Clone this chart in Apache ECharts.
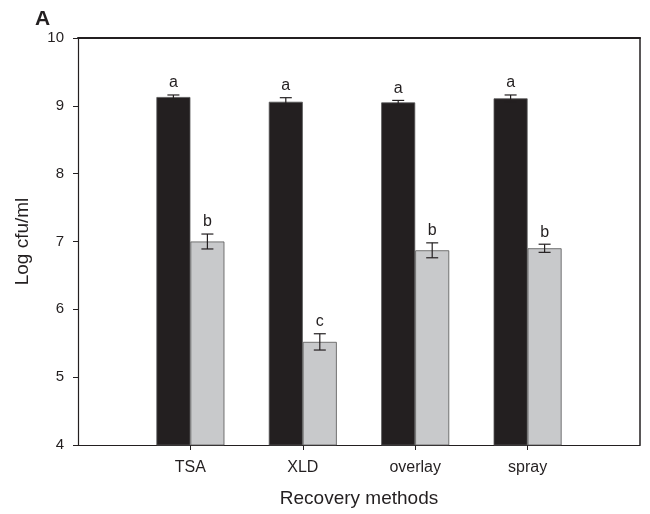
<!DOCTYPE html>
<html>
<head>
<meta charset="utf-8">
<script src="https://cdn.jsdelivr.net/npm/echarts@6/dist/echarts.min.js"></script>
<style>
  html, body { margin: 0; padding: 0; background: #fff; }
  #chart { width: 650px; height: 514px; }
</style>
</head>
<body>
<div id="chart"></div>
<script>
// categories, padded with empty slots so the methods sit between the frame edges
var methods = ['', 'TSA', 'XLD', 'overlay', 'spray', ''];
var blackMean = [null, 9.13, 9.06, 9.05, 9.11, null];
var blackErr = [null, 0.03, 0.06, 0.03, 0.05, null];
var blackLetter = ['', 'a', 'a', 'a', 'a', ''];
var greyMean = [null, 7.00, 5.52, 6.87, 6.90, null];
var greyErr = [null, 0.11, 0.12, 0.11, 0.06, null];
var greyLetter = ['', 'b', 'c', 'b', 'b', ''];
var yTicks = [4, 5, 6, 7, 8, 9, 10];

var FONT = 'Liberation Sans, Arial, sans-serif';
var BAR_W = 34;

function errData(mean, err, letter) {
    var out = [];
    for (var i = 0; i < mean.length; i++) {
        if (mean[i] == null) continue;
        out.push([i, mean[i], err[i], letter[i]]);
    }
    return out;
}

// error bar + significance letter, shifted half a bar to the left or right
function errRender(shift) {
    return function (params, api) {
        var i = api.value(0), m = api.value(1), e = api.value(2);
        var top = api.coord([i, m + e]);
        var bot = api.coord([i, m - e]);
        var x = top[0] + shift;
        var cap = 6;
        var st = { stroke: '#231f20', lineWidth: 1.2 };
        return {
            type: 'group',
            children: [
                { type: 'line', shape: { x1: x, y1: top[1], x2: x, y2: bot[1] }, style: st },
                { type: 'line', shape: { x1: x - cap, y1: top[1], x2: x + cap, y2: top[1] }, style: st },
                { type: 'line', shape: { x1: x - cap, y1: bot[1], x2: x + cap, y2: bot[1] }, style: st },
                {
                    type: 'text',
                    style: {
                        x: x, y: top[1] - 4, text: api.value(3),
                        textAlign: 'center', textVerticalAlign: 'bottom',
                        font: '16px ' + FONT, fill: '#231f20'
                    }
                }
            ]
        };
    };
}

var myChart = echarts.init(document.getElementById('chart'));
var option = {
    animation: false,
    backgroundColor: '#fff',
    graphic: [{
        type: 'text', left: 35, top: 9,
        style: { text: 'A', font: 'bold 21px ' + FONT, fill: '#231f20' }
    }],
    grid: { left: 78, right: 10, top: 38, bottom: 69 },
    xAxis: [{
        type: 'category',
        data: methods,
        boundaryGap: false,
        name: 'Recovery methods',
        nameLocation: 'middle',
        nameGap: 44,
        nameTextStyle: { fontSize: 19, fontFamily: FONT, color: '#231f20' },
        axisLine: { lineStyle: { color: '#231f20', width: 1.2 } },
        axisTick: {
            length: 5, lineStyle: { color: '#231f20' },
            interval: function (idx) { return idx > 0 && idx < methods.length - 1; }
        },
        axisLabel: { margin: 15, fontSize: 16, fontFamily: FONT, color: '#231f20' },
        splitLine: { show: false }
    }, {
        type: 'category',
        position: 'top',
        data: methods,
        boundaryGap: false,
        axisLine: { lineStyle: { color: '#231f20', width: 2 } },
        axisTick: { show: false },
        axisLabel: { show: false }
    }],
    yAxis: [{
        type: 'value',
        min: 4, max: 10, interval: 1,
        name: 'Log cfu/ml',
        nameLocation: 'middle',
        nameGap: 46,
        nameTextStyle: { fontSize: 19, fontFamily: FONT, color: '#231f20' },
        axisLine: { show: true, lineStyle: { color: '#231f20', width: 1.2 } },
        axisTick: { show: true, length: 5, lineStyle: { color: '#231f20' } },
        axisLabel: { margin: 14, fontSize: 15, fontFamily: FONT, color: '#231f20',
            formatter: function (v) { return yTicks.indexOf(v) >= 0 ? String(v) : ''; } },
        splitLine: { show: false }
    }, {
        type: 'value',
        position: 'right',
        min: 4, max: 10,
        axisLine: { show: true, lineStyle: { color: '#231f20', width: 1.5 } },
        axisTick: { show: false },
        axisLabel: { show: false },
        splitLine: { show: false }
    }],
    series: [{
        type: 'bar',
        data: blackMean,
        barWidth: BAR_W,
        barGap: '0%',
        itemStyle: { color: '#231f20', borderColor: '#555', borderWidth: 0.8 }
    }, {
        type: 'bar',
        data: greyMean,
        barWidth: BAR_W,
        barGap: '0%',
        itemStyle: { color: '#c8c9cb', borderColor: '#555', borderWidth: 0.8 }
    }, {
        type: 'custom',
        renderItem: errRender(-BAR_W / 2),
        data: errData(blackMean, blackErr, blackLetter),
        z: 5
    }, {
        type: 'custom',
        renderItem: errRender(BAR_W / 2),
        data: errData(greyMean, greyErr, greyLetter),
        z: 5
    }]
};
myChart.setOption(option);
</script>
</body>
</html>
